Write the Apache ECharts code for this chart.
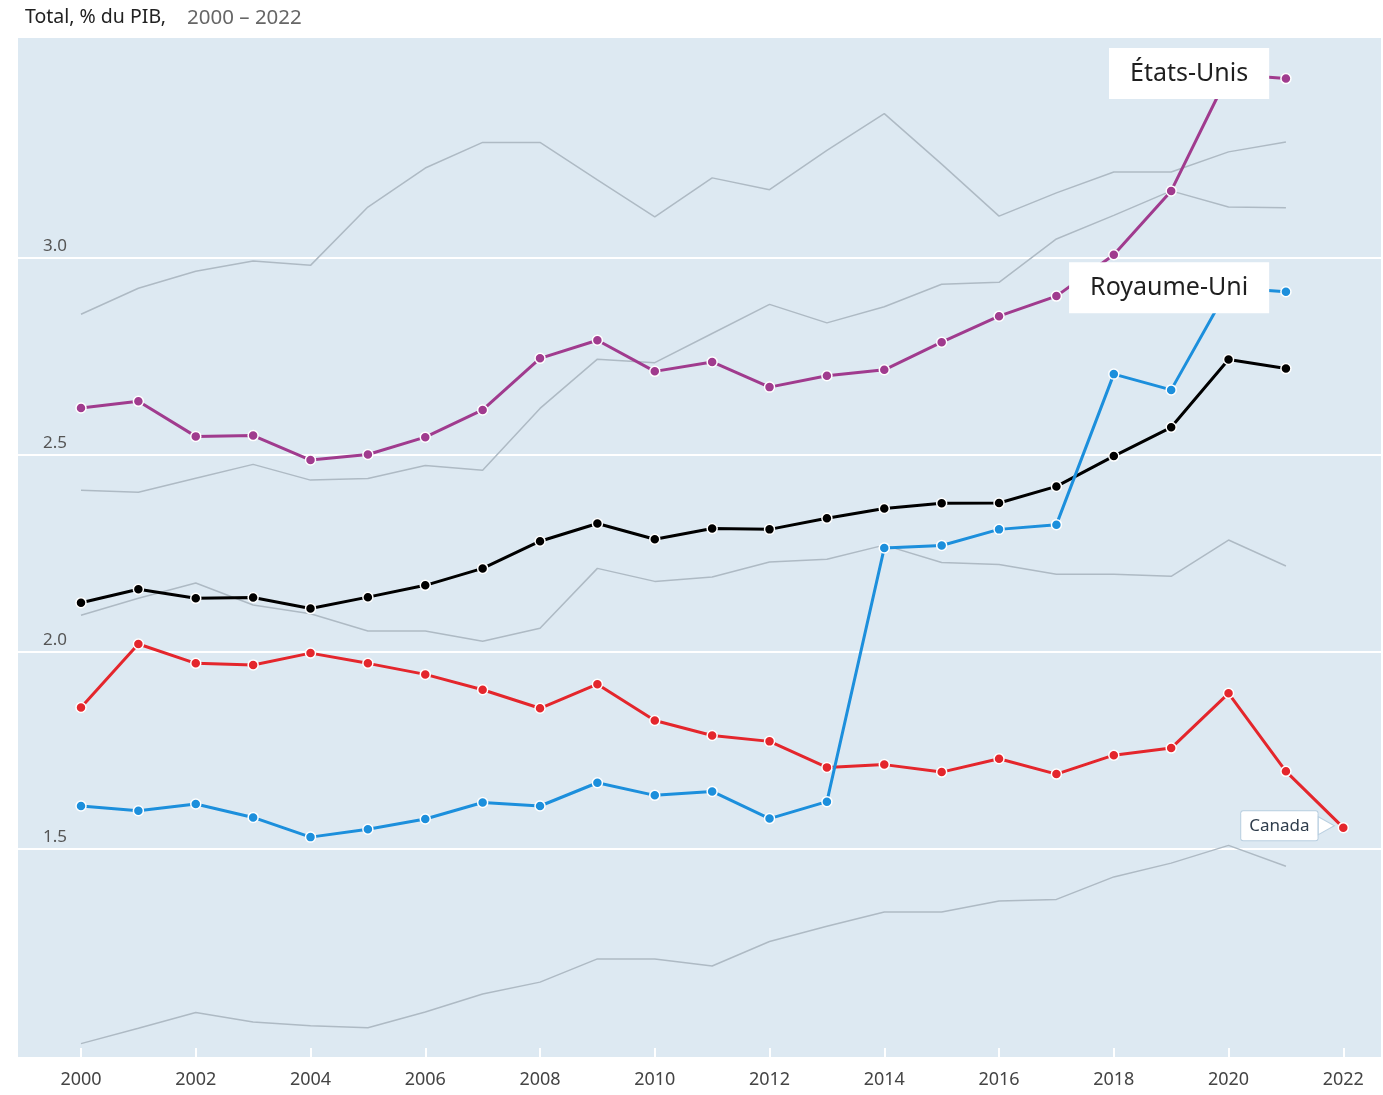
<!DOCTYPE html>
<html>
<head>
<meta charset="utf-8">
<title>Total, % du PIB</title>
<script src="https://cdn.jsdelivr.net/npm/echarts@6/dist/echarts.min.js"></script>
<style>
  html, body { margin: 0; padding: 0; background: #fff; }
  #chart { width: 1383px; height: 1095px; }
</style>
</head>
<body>
<div id="chart"></div>
<script>
const years = [2000, 2001, 2002, 2003, 2004, 2005, 2006, 2007, 2008, 2009, 2010,
  2011, 2012, 2013, 2014, 2015, 2016, 2017, 2018, 2019, 2020, 2021, 2022];
const tickYears = [2000, 2002, 2004, 2006, 2008, 2010, 2012, 2014, 2016, 2018, 2020, 2022];
const yTicks = [1.5, 2.0, 2.5, 3.0];

// pays mis en avant
const etatsUnis = [2.619, 2.636, 2.547, 2.549, 2.487, 2.501, 2.545, 2.614, 2.745, 2.791, 2.712,
  2.736, 2.672, 2.701, 2.716, 2.786, 2.852, 2.903, 3.008, 3.170, 3.466, 3.455];
const royaumeUni = [1.609, 1.597, 1.614, 1.580, 1.530, 1.550, 1.576, 1.618, 1.609, 1.668, 1.636,
  1.646, 1.577, 1.620, 2.264, 2.270, 2.311, 2.323, 2.705, 2.665, 2.924, 2.914];
const moyenne = [2.125, 2.159, 2.136, 2.138, 2.110, 2.139, 2.169, 2.212, 2.281, 2.326, 2.286,
  2.313, 2.311, 2.339, 2.364, 2.377, 2.378, 2.420, 2.497, 2.570, 2.742, 2.719];
const canada = [1.859, 2.020, 1.971, 1.967, 1.997, 1.971, 1.943, 1.904, 1.857, 1.918, 1.826,
  1.788, 1.773, 1.707, 1.714, 1.695, 1.729, 1.690, 1.738, 1.756, 1.895, 1.697, 1.554];

// autres pays (gris)
const gris1 = [2.857, 2.923, 2.966, 2.992, 2.981, 3.129, 3.228, 3.293, 3.293, 3.198, 3.104,
  3.203, 3.173, 3.273, 3.366, 3.238, 3.106, 3.165, 3.218, 3.218, 3.269, 3.294];
const gris2 = [2.410, 2.405, 2.441, 2.476, 2.436, 2.440, 2.473, 2.461, 2.618, 2.743, 2.734,
  2.808, 2.882, 2.835, 2.876, 2.933, 2.938, 3.048, 3.108, 3.170, 3.129, 3.127];
const gris3 = [2.093, 2.136, 2.175, 2.119, 2.097, 2.053, 2.053, 2.027, 2.060, 2.212, 2.179,
  2.190, 2.228, 2.235, 2.271, 2.227, 2.222, 2.197, 2.197, 2.192, 2.284, 2.218];
const gris4 = [1.006, 1.045, 1.085, 1.061, 1.051, 1.046, 1.086, 1.132, 1.162, 1.221, 1.221,
  1.203, 1.265, 1.304, 1.340, 1.340, 1.368, 1.372, 1.429, 1.464, 1.509, 1.456];

const FONT = "'Noto Sans', sans-serif";

const pairs = (vals) => vals.map((v, i) => [years[i], v]);

// étiquette sur le dernier point seulement
function withEndLabel(vals, label) {
  const d = pairs(vals);
  const last = d.length - 1;
  d[last] = { value: d[last], label: Object.assign({ show: true, formatter: '{a}' }, label) };
  return d;
}

function grey(name, vals) {
  return {
    name: name,
    type: 'line',
    data: pairs(vals),
    symbol: 'none',
    silent: true,
    z: 1,
    lineStyle: { color: '#aebac4', width: 1.5 }
  };
}

function main(name, vals, color, z, data) {
  return {
    name: name,
    type: 'line',
    data: data || pairs(vals),
    symbol: 'circle',
    symbolSize: 10,
    z: z,
    lineStyle: { color: color, width: 3 },
    itemStyle: { color: color, borderColor: '#fff', borderWidth: 1.5 }
  };
}

const bigLabel = {
  position: 'left',
  distance: 11,
  backgroundColor: '#fff',
  color: '#1f1f1f',
  fontFamily: FONT,
  fontSize: 25,
  lineHeight: 27,
  padding: [12, 21]
};

const chart = echarts.init(document.getElementById('chart'));

const option = {
  animation: false,
  title: {
    left: 25,
    top: 3,
    padding: 0,
    text: '{a|Total, % du PIB,}{b|2000 – 2022}',
    textStyle: {
      fontWeight: 'normal',
      rich: {
        a: { fontSize: 19.5, lineHeight: 28, color: '#222', fontFamily: FONT, fontWeight: 'normal' },
        b: { fontSize: 20.5, lineHeight: 28, color: '#666', fontFamily: FONT, fontWeight: 'normal', padding: [2, 0, 0, 21] }
      }
    }
  },
  grid: {
    left: 18,
    right: 2,
    top: 38,
    bottom: 38,
    show: true,
    backgroundColor: '#dde9f2',
    borderWidth: 0,
    outerBoundsMode: 'none'
  },
  xAxis: {
    type: 'value',
    min: 1998.902,
    max: 2022.657,
    axisLine: { show: false },
    axisTick: {
      show: true,
      inside: true,
      length: 9,
      customValues: tickYears,
      lineStyle: { color: '#fff', width: 2 }
    },
    axisLabel: {
      customValues: tickYears,
      margin: 14,
      color: '#444',
      fontSize: 18,
      fontFamily: FONT,
      formatter: (v) => String(v)
    },
    splitLine: { show: false }
  },
  yAxis: {
    type: 'value',
    min: 0.972,
    max: 3.558,
    axisLine: { show: false },
    axisTick: { show: false, customValues: yTicks },
    axisLabel: {
      customValues: yTicks,
      inside: true,
      margin: 25,
      verticalAlign: 'bottom',
      padding: [0, 0, 3, 0],
      color: '#555',
      fontSize: 17,
      fontFamily: FONT,
      formatter: (v) => v.toFixed(1)
    },
    splitLine: { show: true, lineStyle: { color: '#fff', width: 2 } }
  },
  series: [
    grey('gris1', gris1),
    grey('gris2', gris2),
    grey('gris3', gris3),
    grey('gris4', gris4),
    main('Moyenne', moyenne, '#000', 2),
    Object.assign(main('Canada', canada, '#e4262c', 3, withEndLabel(canada, {
      position: 'left',
      distance: 20,
      backgroundColor: '#fff',
      borderColor: '#b9cfe0',
      borderWidth: 1,
      borderRadius: 2,
      color: '#2f3d4c',
      fontFamily: FONT,
      fontSize: 17,
      padding: [6, 8],
      offset: [0, -2]
    })), {
      markPoint: {
        silent: true,
        symbol: 'path://M0,0L1,0.5L0,1Z',
        symbolSize: [16, 18],
        symbolOffset: [-17, -2],
        itemStyle: { color: '#fff', borderColor: '#b9cfe0', borderWidth: 1 },
        label: { show: false },
        data: [{ coord: [years[canada.length - 1], canada[canada.length - 1]] }]
      }
    }),
    main('États-Unis', etatsUnis, '#a03b8e', 4,
      withEndLabel(etatsUnis, Object.assign({}, bigLabel, { offset: [0, -5] }))),
    main('Royaume-Uni', royaumeUni, '#1c8fdc', 5,
      withEndLabel(royaumeUni, Object.assign({}, bigLabel, { offset: [0, -4] })))
  ]
};

chart.setOption(option);
</script>
</body>
</html>
